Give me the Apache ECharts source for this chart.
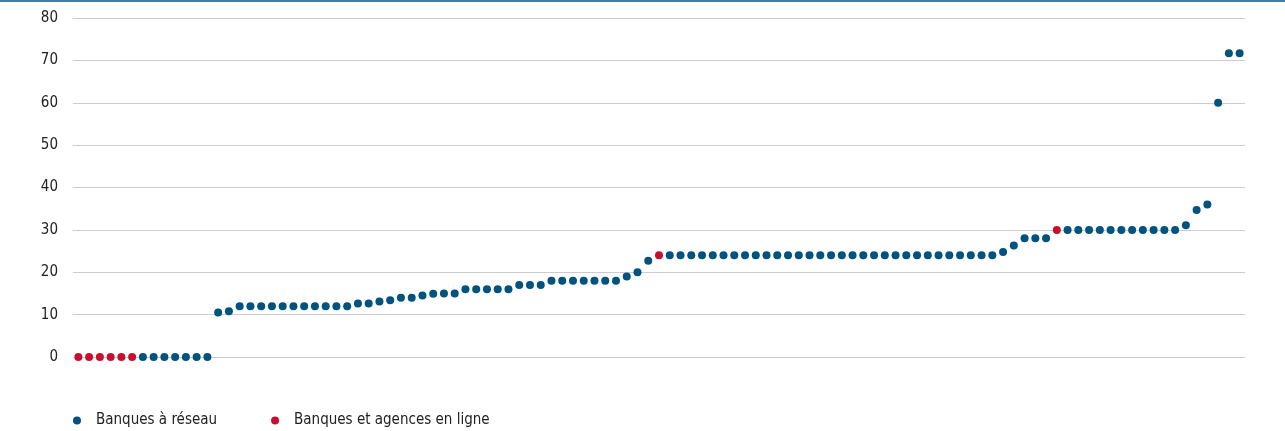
<!DOCTYPE html>
<html>
<head>
<meta charset="utf-8">
<title>Banques</title>
<script src="https://cdn.jsdelivr.net/npm/echarts@6/dist/echarts.min.js"></script>
<style>
  html, body { margin: 0; padding: 0; background: #fff; }
  #chart { width: 1285px; height: 431px; }
</style>
</head>
<body>
<div id="chart"></div>
<script>
// ==================== 数据 ====================
const seriesNames = ['Banques à réseau', 'Banques et agences en ligne'];

// valeur de chaque banque, triée par ordre croissant
const values = [
  0, 0, 0, 0, 0, 0, 0, 0, 0, 0, 0, 0, 0,
  10.5, 10.8,
  12, 12, 12, 12, 12, 12, 12, 12, 12, 12, 12,
  12.6, 12.6, 13.1, 13.4, 14, 14, 14.5, 14.9, 15, 15,
  16, 16, 16, 16, 16,
  17, 17, 17,
  18, 18, 18, 18, 18, 18, 18,
  19, 20, 22.7,
  24,
  24, 24, 24, 24, 24, 24, 24, 24, 24, 24, 24, 24, 24, 24, 24, 24,
  24, 24, 24, 24, 24, 24, 24, 24, 24, 24, 24, 24, 24, 24, 24,
  24.8, 26.3,
  28, 28, 28,
  30,
  30, 30, 30, 30, 30, 30, 30, 30, 30, 30, 30,
  31.1, 34.7, 36, 60, 71.7, 71.7
];

// type de banque : R = réseau, L = en ligne
const types = [
  'L', 'L', 'L', 'L', 'L', 'L', 'R', 'R', 'R', 'R', 'R', 'R', 'R',
  'R', 'R',
  'R', 'R', 'R', 'R', 'R', 'R', 'R', 'R', 'R', 'R', 'R',
  'R', 'R', 'R', 'R', 'R', 'R', 'R', 'R', 'R', 'R',
  'R', 'R', 'R', 'R', 'R',
  'R', 'R', 'R',
  'R', 'R', 'R', 'R', 'R', 'R', 'R',
  'R', 'R', 'R',
  'L',
  'R', 'R', 'R', 'R', 'R', 'R', 'R', 'R', 'R', 'R', 'R', 'R', 'R', 'R', 'R', 'R',
  'R', 'R', 'R', 'R', 'R', 'R', 'R', 'R', 'R', 'R', 'R', 'R', 'R', 'R', 'R',
  'R', 'R',
  'R', 'R', 'R',
  'L',
  'R', 'R', 'R', 'R', 'R', 'R', 'R', 'R', 'R', 'R', 'R',
  'R', 'R', 'R', 'R', 'R', 'R'
];

const yTicks = [0, 10, 20, 30, 40, 50, 60, 70, 80];

const categories = values.map((v, i) => String(i + 1));
const reseauData = values.map((v, i) => types[i] === 'R' ? v : '-');
const enLigneData = values.map((v, i) => types[i] === 'L' ? v : '-');

// ==================== 图表 ====================
const FONT = "'Liberation Sans Narrow', 'DejaVu Sans Condensed', 'Roboto', sans-serif";
const BLUE = '#00527f';
const RED = '#c8102e';

const chart = echarts.init(document.getElementById('chart'));
chart.setOption({
  animation: false,
  graphic: [{
    type: 'line',
    shape: { x1: 0, y1: 1, x2: 1285, y2: 1 },
    style: { stroke: '#3d7eab', lineWidth: 2 }
  }],
  legend: {
    data: seriesNames,
    left: 68,
    top: 408,
    icon: 'circle',
    itemWidth: 28,
    itemHeight: 8,
    itemGap: 54,
    textStyle: { fontFamily: FONT, fontSize: 15, color: '#222' }
  },
  grid: {
    left: 73,
    right: 40,
    top: 18,
    bottom: 74
  },
  xAxis: {
    type: 'category',
    data: categories,
    boundaryGap: true,
    axisLine: { show: false },
    axisTick: { show: false },
    axisLabel: { show: false },
    splitLine: { show: false }
  },
  yAxis: {
    type: 'value',
    min: yTicks[0],
    max: yTicks[yTicks.length - 1],
    interval: 10,
    axisLine: { show: false },
    axisTick: { show: false },
    axisLabel: {
      margin: 15,
      fontFamily: FONT,
      fontSize: 15,
      color: '#222'
    },
    splitLine: {
      lineStyle: { color: '#cccccc', width: 1 }
    }
  },
  series: [
    {
      name: seriesNames[0],
      type: 'scatter',
      data: reseauData,
      symbol: 'circle',
      symbolSize: 8,
      itemStyle: { color: BLUE, opacity: 1 }
    },
    {
      name: seriesNames[1],
      type: 'scatter',
      data: enLigneData,
      symbol: 'circle',
      symbolSize: 8,
      itemStyle: { color: RED, opacity: 1 }
    }
  ]
});
</script>
</body>
</html>
